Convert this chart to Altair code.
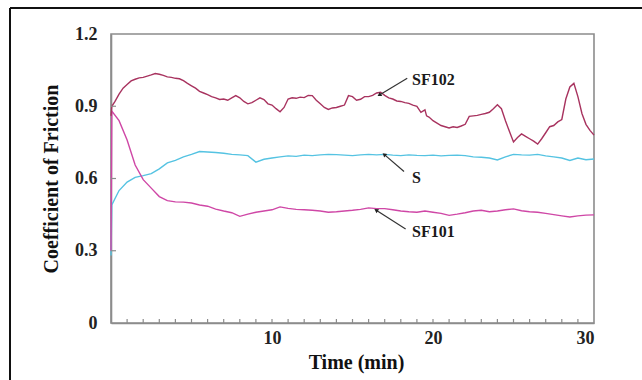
import altair as alt
import numpy as np
import pandas as pd

# Sliding time (min) for the S and SF101 traces
TIME = [
    0, 0.05, 0.5, 1.0, 1.5, 2.0, 2.5, 3.0, 3.5, 4.0,
    4.5, 5.0, 5.5, 6.0, 6.5, 7.0, 7.5, 8.0, 8.5, 9.0,
    9.5, 10.0, 10.5, 11.0, 11.5, 12.0, 12.5, 13.0, 13.5, 14.0,
    14.5, 15.0, 15.5, 16.0, 16.5, 17.0, 17.5, 18.0, 18.5, 19.0,
    19.5, 20.0, 20.5, 21.0, 21.5, 22.0, 22.5, 23.0, 23.5, 24.0,
    24.5, 25.0, 25.5, 26.0, 26.5, 27.0, 27.5, 28.0, 28.5, 29.0,
    29.5, 30.0,
]
COF_SF101 = [
    0.30, 0.88, 0.84, 0.76, 0.656, 0.595, 0.56, 0.525, 0.508, 0.503,
    0.502, 0.498, 0.49, 0.485, 0.473, 0.465, 0.458, 0.443, 0.452, 0.46,
    0.465, 0.47, 0.482, 0.476, 0.472, 0.47, 0.468, 0.465, 0.46, 0.462,
    0.465, 0.468, 0.472, 0.478, 0.475, 0.475, 0.47, 0.465, 0.462, 0.46,
    0.465, 0.46, 0.455, 0.447, 0.452, 0.458, 0.465, 0.468, 0.462, 0.465,
    0.47, 0.474, 0.466, 0.462, 0.46, 0.455, 0.45, 0.445, 0.44, 0.445,
    0.448, 0.449,
]
COF_S = [
    0.28, 0.49, 0.55, 0.585, 0.605, 0.612, 0.62, 0.64, 0.665, 0.675,
    0.69, 0.70, 0.712, 0.71, 0.708, 0.705, 0.70, 0.698, 0.695, 0.668,
    0.68, 0.685, 0.69, 0.694, 0.692, 0.697, 0.695, 0.698, 0.70, 0.699,
    0.697, 0.695, 0.698, 0.70, 0.698, 0.70, 0.697, 0.695, 0.698, 0.696,
    0.695, 0.697, 0.694, 0.696, 0.697, 0.695, 0.69, 0.688, 0.685, 0.677,
    0.69, 0.70, 0.698, 0.697, 0.70, 0.694, 0.69, 0.685, 0.675, 0.685,
    0.678, 0.681,
]

# SF102 fluctuates more, so it is sampled more finely
T_SF102 = [
    0, 0.05, 0.25, 0.5, 0.75, 1.0, 1.25, 1.5, 1.75, 2.0,
    2.25, 2.5, 2.75, 3.0, 3.25, 3.5, 3.75, 4.0, 4.25, 4.5,
    4.75, 5.0, 5.25, 5.5, 5.75, 6.0, 6.25, 6.5, 6.75, 7.0,
    7.25, 7.5, 7.75, 8.0, 8.25, 8.5, 8.75, 9.0, 9.25, 9.5,
    9.75, 10.0, 10.25, 10.5, 10.75, 11.0, 11.25, 11.5, 11.75, 12.0,
    12.25, 12.5, 12.75, 13.0, 13.25, 13.5, 13.75, 14.0, 14.25, 14.5,
    14.75, 15.0, 15.25, 15.5, 15.75, 16.0, 16.25, 16.5, 16.75, 17.0,
    17.25, 17.5, 17.75, 18.0, 18.25, 18.5, 18.75, 19.0, 19.25, 19.5,
    19.6, 19.75, 20.0, 20.25, 20.5, 20.75, 21.0, 21.25, 21.5, 21.75,
    22.0, 22.25, 22.5, 22.75, 23.0, 23.25, 23.5, 23.75, 24.0, 24.25,
    24.5, 24.75, 25.0, 25.25, 25.5, 25.75, 26.0, 26.25, 26.5, 26.75,
    27.0, 27.25, 27.5, 27.75, 28.0, 28.25, 28.5, 28.75, 29.0, 29.25,
    29.5, 29.75, 30.0,
]
COF_SF102 = [
    0.86, 0.90, 0.92, 0.95, 0.975, 0.99, 1.005, 1.012, 1.018, 1.02,
    1.025, 1.03, 1.036, 1.033, 1.028, 1.022, 1.02, 1.016, 1.014, 1.006,
    0.995, 0.985, 0.975, 0.962, 0.955, 0.948, 0.94, 0.935, 0.928, 0.93,
    0.925, 0.935, 0.944, 0.935, 0.92, 0.91, 0.915, 0.925, 0.935, 0.928,
    0.91, 0.905, 0.89, 0.877, 0.895, 0.93, 0.935, 0.933, 0.938, 0.936,
    0.945, 0.944, 0.925, 0.91, 0.895, 0.887, 0.893, 0.895, 0.9, 0.905,
    0.944, 0.94, 0.925, 0.929, 0.94, 0.94, 0.945, 0.955, 0.958, 0.945,
    0.935, 0.93, 0.922, 0.92, 0.915, 0.912, 0.905, 0.9, 0.875, 0.885,
    0.86, 0.855, 0.84, 0.83, 0.82, 0.815, 0.81, 0.815, 0.812, 0.818,
    0.825, 0.858, 0.86, 0.862, 0.866, 0.87, 0.875, 0.89, 0.906, 0.89,
    0.84, 0.795, 0.752, 0.77, 0.785, 0.775, 0.765, 0.755, 0.743, 0.765,
    0.79, 0.815, 0.82, 0.835, 0.845, 0.93, 0.98, 0.995, 0.94, 0.87,
    0.825, 0.8, 0.78,
]

SERIES = ["S", "SF101", "SF102"]
COLORS = ["#55c3e2", "#cf47a6", "#a8335f"]

# Callout labels: text anchor and arrow from label to curve
LABELS = ["SF102", "S", "SF101"]
LABEL_T = [18.7, 18.7, 18.7]
LABEL_Y = [1.011, 0.604, 0.378]
ARROW_T0 = [18.4, 18.2, 18.3]
ARROW_Y0 = [1.016, 0.629, 0.39]
ARROW_T1 = [16.7, 17.0, 16.5]
ARROW_Y1 = [0.948, 0.698, 0.467]

Y_TICKS = [0.3, 0.6, 0.9]
X_TICKS = list(range(1, 30))

W, H = 483, 289
FONT = "Liberation Serif"
AXIS_GRAY = "#8c8c8c"

lines = pd.concat([
    pd.DataFrame({"time": TIME, "cof": COF_S, "series": "S"}),
    pd.DataFrame({"time": TIME, "cof": COF_SF101, "series": "SF101"}),
    pd.DataFrame({"time": T_SF102, "cof": COF_SF102, "series": "SF102"}),
], ignore_index=True)

# Arrowhead orientation in screen space (degrees clockwise from up)
px_t, px_y = W / 30.0, H / 1.2
dx = (np.array(ARROW_T1) - np.array(ARROW_T0)) * px_t
dy = -(np.array(ARROW_Y1) - np.array(ARROW_Y0)) * px_y
angles = (np.degrees(np.arctan2(dx, -dy)) + 360) % 360

notes = pd.DataFrame({
    "label": LABELS, "lt": LABEL_T, "ly": LABEL_Y,
    "t0": ARROW_T0, "y0": ARROW_Y0, "t1": ARROW_T1, "y1": ARROW_Y1,
    "angle": angles,
})

x_scale = alt.Scale(domain=[0, 30], nice=False, zero=False)
y_scale = alt.Scale(domain=[0, 1.2], nice=False)

curves = alt.Chart(lines).mark_line(strokeWidth=1.4).encode(
    x=alt.X("time:Q", scale=x_scale, title="Time (min)",
            axis=alt.Axis(values=[10, 20, 30], tickSize=0, grid=False,
                          labelPadding=6, labelFontSize=18, labelFontWeight="bold",
                          titleFontSize=20, titleFontWeight="bold",
                          titleX=245, titleY=39, titleBaseline="middle")),
    y=alt.Y("cof:Q", scale=y_scale, title="Coefficient of Friction",
            axis=alt.Axis(values=[0, 0.3, 0.6, 0.9, 1.2], tickSize=0, grid=False,
                          labelPadding=14, labelFontSize=18, labelFontWeight="bold",
                          labelExpr="datum.value == 0 ? '0' : format(datum.value, '.1f')",
                          titleFontSize=20, titleFontWeight="bold",
                          titleX=-60, titleY=H / 2, titleBaseline="middle")),
    color=alt.Color("series:N", scale=alt.Scale(domain=SERIES, range=COLORS), legend=None),
    order=alt.Order("time:Q"),
)

x_ticks = alt.Chart(pd.DataFrame({"t": X_TICKS})).mark_rule(
    color=AXIS_GRAY, strokeWidth=1.2
).encode(x=alt.X("t:Q", scale=x_scale), y=alt.value(H), y2=alt.value(H - 4))

y_ticks = alt.Chart(pd.DataFrame({"v": Y_TICKS})).mark_rule(
    color=AXIS_GRAY, strokeWidth=1.2
).encode(y=alt.Y("v:Q", scale=y_scale), x=alt.value(0), x2=alt.value(5))

arrows = alt.Chart(notes).mark_rule(color="#333333", strokeWidth=1.2).encode(
    x=alt.X("t0:Q", scale=x_scale), y=alt.Y("y0:Q", scale=y_scale),
    x2="t1:Q", y2="y1:Q",
)

heads = alt.Chart(notes).mark_point(
    shape="triangle", filled=True, color="#222222", size=22, opacity=1
).encode(
    x=alt.X("t1:Q", scale=x_scale), y=alt.Y("y1:Q", scale=y_scale),
    angle=alt.Angle("angle:Q", scale=None),
)

texts = alt.Chart(notes).mark_text(
    align="left", baseline="middle", font=FONT, fontSize=16,
    fontWeight="bold", color="#1a1a1a"
).encode(
    x=alt.X("lt:Q", scale=x_scale), y=alt.Y("ly:Q", scale=y_scale), text="label:N"
)

# Figure frame: top and left edges of the panel border
frame_top = alt.Chart(pd.DataFrame({"k": [0]})).mark_rule(
    color="#111111", strokeWidth=2
).encode(x=alt.value(-101), x2=alt.value(531), y=alt.value(-26))
frame_left = alt.Chart(pd.DataFrame({"k": [0]})).mark_rule(
    color="#111111", strokeWidth=2
).encode(x=alt.value(-101), y=alt.value(-26), y2=alt.value(350))

chart = alt.layer(
    curves, x_ticks, y_ticks, arrows, heads, texts, frame_top, frame_left
).properties(
    width=W, height=H, autosize="none",
    padding={"left": 111, "top": 34, "right": 48, "bottom": 57},
    background="white",
).configure_view(
    stroke=AXIS_GRAY, strokeWidth=1.6
).configure_axis(
    domainColor=AXIS_GRAY, domainWidth=1.6,
    labelFont=FONT, titleFont=FONT, labelColor="#222222", titleColor="#111111",
)

chart.save("out.html", embed_options={"renderer": "svg", "actions": False})
